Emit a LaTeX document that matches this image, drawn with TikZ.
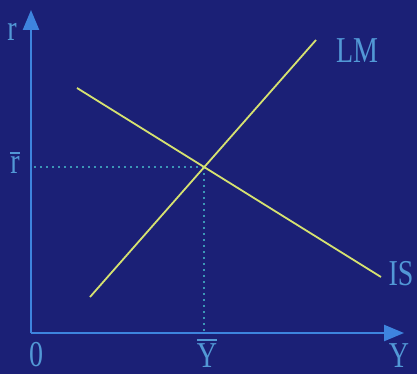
\documentclass[tikz,border=0pt]{standalone}
\usepackage{fontspec}
\setmainfont{Liberation Serif}
\usepackage{graphicx}
\usetikzlibrary{arrows.meta, positioning, calc, intersections}
\definecolor{board}{RGB}{27,32,118}
\definecolor{axisblue}{RGB}{62,132,222}
\definecolor{labelblue}{RGB}{82,152,214}
\definecolor{curveyellow}{RGB}{214,226,112}
\definecolor{guidecyan}{RGB}{60,150,182}
\tikzset{
    islm/.style={>={Triangle[length=20pt, width=16pt]}, x=1pt, y=-1pt},
    axis/.style={->, line width=2.4pt, draw=axisblue},
    curve/.style={line width=1.8pt, draw=curveyellow},
    guide/.style={line width=1.8pt, draw=guidecyan, dash pattern=on 2pt off 4pt},
    lbl/.style={text=labelblue, font=\fontsize{28}{30}\selectfont, inner sep=0pt},
}
% letters in the picture are a bit taller than wide
\newcommand{\tallify}[1]{\scalebox{1}[1.3]{#1}}
% a bar over a letter, as the picture prints it
\newcommand{\barred}[1]{\vbox{\hrule height 1.2pt \kern 2pt \hbox{#1}}}

\begin{document}
\begin{tikzpicture}[islm]
    \fill[board] (0,0) rectangle (417,374);
    \useasboundingbox (0,0) rectangle (417,374);

    \coordinate (O)    at (31,333);
    \coordinate (ytip) at (31,10);
    \coordinate (xtip) at (404,333);

    \draw[axis] (O) -- (ytip);
    \draw[axis] (O) -- (xtip);

    \coordinate (lmA) at (90,297);
    \coordinate (lmB) at (316,40);
    \coordinate (isA) at (77,88);
    \coordinate (isB) at (381,277);

    \path[name path=lm] (lmA) -- (lmB);
    \path[name path=is] (isA) -- (isB);
    \path[name intersections={of=lm and is, by=E}];

    \draw[guide] (E) -- (O |- E);
    \draw[guide] (E) -- (E |- O);

    \draw[curve] (lmA) -- (lmB);
    \draw[curve] (isA) -- (isB);

    \node[lbl]               (rlab)    at (12,32)  {\tallify{r}};
    \node[lbl, anchor=north] (rbarlab) at (15,152) {\tallify{\barred{r}}};
    \node[lbl, anchor=north] (zero)    at (36,342) {\tallify{0}};
    \node[lbl, anchor=north] (ybarlab) at (207,339) {\tallify{\barred{Y}}};
    \node[lbl, anchor=north] (ylab)    at (399,343) {\tallify{Y}};
    \node[lbl]               (lmlab)   at (357,51) {\tallify{LM}};
    \node[lbl]               (islab)   at (401,274) {\tallify{IS}};
\end{tikzpicture}
\end{document}
